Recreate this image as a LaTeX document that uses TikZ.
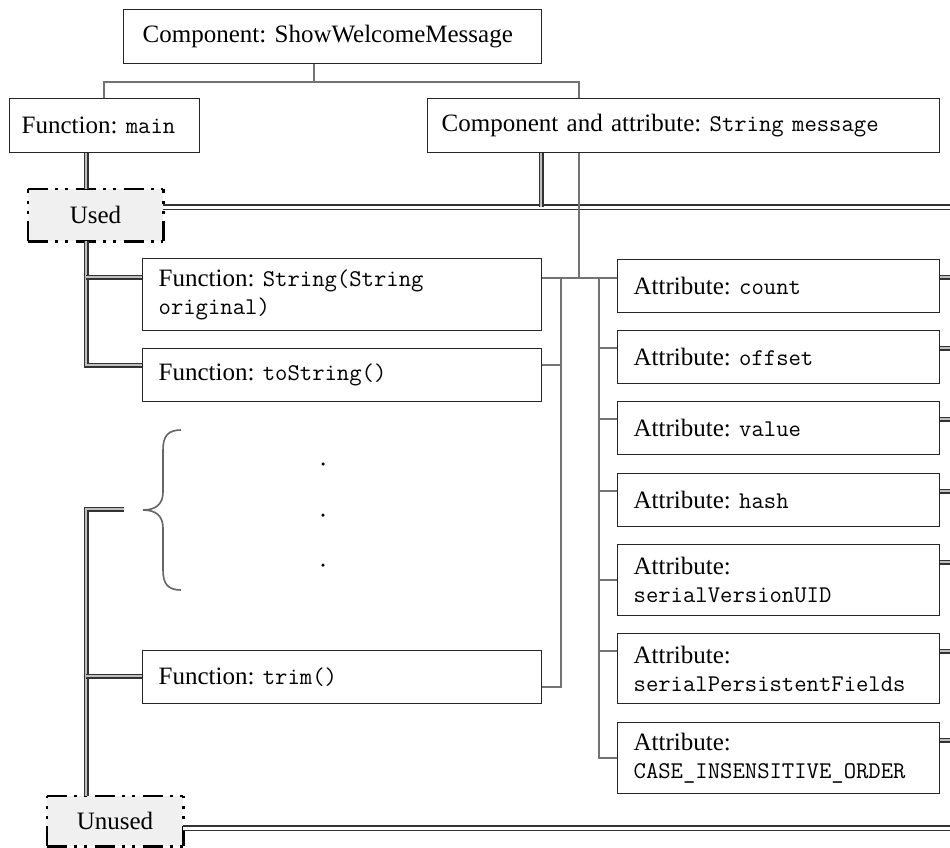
\documentclass[tikz,border=0pt]{standalone}
\usepackage{fontspec}
\setmainfont{Liberation Serif}
\frenchspacing
\newcommand{\cd}[1]{{\ttfamily\fontsize{24}{28}\selectfont #1}}
\begin{document}
\begin{tikzpicture}[x=1pt,y=-1pt,
  box/.style={draw=black!85, line width=1.3pt, fill=white, anchor=north west,
    align=left, inner xsep=16pt, inner ysep=0pt, font=\fontsize{25}{28}\selectfont\frenchspacing},
  dbl/.style={draw=black!80, line width=1.2pt, double=black!25, double distance=2.6pt},
  dblw/.style={draw=black!80, line width=1.2pt, double=white, double distance=3pt},
  conn/.style={draw=black!55, line width=1.8pt},
  status/.style={fill=black!6, minimum width=135pt, minimum height=52pt, inner sep=0pt,
    font=\fontsize{25}{28}\selectfont},
  sdash/.style={draw=black, line width=2.6pt,
    dash pattern=on 20pt off 7pt on 3pt off 7pt on 3pt off 8pt},
  dotm/.style={fill=black, circle, inner sep=0pt, minimum size=3.5pt}
]
\fill[white] (0,0) rectangle (950,848);
\useasboundingbox (0,0) rectangle (950,848);

% helper coordinates
\coordinate (vx) at (86,0);
\coordinate (jl) at (104,82);
\coordinate (jm) at (314,82);
\coordinate (jr) at (579,82);
\coordinate (cx) at (541,0);
\coordinate (gx) at (579,0);
\coordinate (lx) at (561,0);
\coordinate (rx) at (599,0);
\coordinate (ex) at (950,0);
\coordinate (usedend) at (950,207);
\coordinate (unusedend) at (950,828);
\coordinate (bl) at (124,509);

% boxes
\node[box, inner xsep=19pt, text width=380pt, minimum height=54pt] (top) at (123,9) {Component: ShowWelcomeMessage};
\node[box, inner xsep=12pt, text width=166pt, minimum height=54pt] (main) at (9,98) {Function: \cd{main}};
\node[box, inner xsep=14pt, text width=484pt, minimum height=54pt] (comp) at (427,98) {Component and attribute: \cd{String message}};

\node[box, text width=367pt, minimum height=72pt] (fstr) at (142,258) {Function: \cd{String(String}\\\cd{original)}};
\node[box, text width=367pt, minimum height=53pt] (ftos) at (142,348) {Function: \cd{toString()}};
\node[box, text width=367pt, minimum height=53pt] (ftrim) at (142,650) {Function: \cd{trim()}};

\node[box, text width=290pt, minimum height=53pt] (acount) at (617,259) {Attribute: \cd{count}};
\node[box, text width=290pt, minimum height=53pt] (aoff) at (617,330) {Attribute: \cd{offset}};
\node[box, text width=290pt, minimum height=53pt] (aval) at (617,401) {Attribute: \cd{value}};
\node[box, text width=290pt, minimum height=53pt] (ahash) at (617,473) {Attribute: \cd{hash}};
\node[box, text width=290pt, minimum height=71pt] (asvu) at (617,544) {Attribute:\\\cd{serialVersionUID}};
\node[box, text width=290pt, minimum height=70pt] (aspf) at (617,633) {Attribute:\\\cd{serialPersistentFields}};
\node[box, text width=290pt, minimum height=71pt] (acase) at (617,722) {Attribute:\\\cd{CASE\_INSENSITIVE\_ORDER}};

\node[status] (used) at (95.5,215) {Used};
\node[status, minimum width=136pt, minimum height=50pt] (unused) at (115,821) {Unused};

% dash-dot-dot borders of the status boxes
\foreach \b in {used,unused}{
  \draw[sdash] (\b.north west) -- (\b.north east);
  \draw[sdash] (\b.south east) -- (\b.north east);
  \draw[sdash] (\b.south west) -- (\b.south east);
  \draw[sdash] (\b.south west) -- (\b.north west);
}

% stub points
\coordinate (sstrL) at ([yshift=-19pt]fstr.north west);
\coordinate (stosL) at ([yshift=-17pt]ftos.north west);
\coordinate (strimL) at ([yshift=-26pt]ftrim.north west);
\coordinate (sstrR) at ([yshift=-20pt]fstr.north east);
\coordinate (stosR) at ([yshift=-17pt]ftos.north east);
\coordinate (strimR) at ([yshift=-37pt]ftrim.north east);
\coordinate (scount) at ([yshift=-19pt]acount.north west);
\coordinate (soff) at ([yshift=-18pt]aoff.north west);
\coordinate (sval) at ([yshift=-18pt]aval.north west);
\coordinate (shash) at ([yshift=-18pt]ahash.north west);
\coordinate (ssvu) at ([yshift=-36pt]asvu.north west);
\coordinate (sspf) at ([yshift=-18pt]aspf.north west);
\coordinate (scase) at ([yshift=-36pt]acase.north west);

% top tree connectors
\draw[conn] (top.south -| jm) -- (jm);
\draw[conn] (main.north -| jl) -- (jl) -- (jr) -- (comp.north -| jr);

% used group
\draw[dbl] (main.south -| vx) -- (used.north -| vx);
\draw[dbl] (used.south -| vx) |- (stosL);
\draw[dbl] (vx |- sstrL) -- (sstrL);
\draw[dblw] ([yshift=8pt]used.east) -- (usedend);
\draw[dbl] (comp.south -| cx) -- (cx |- usedend);

% unused group
\draw[dbl] (unused.north -| vx) |- (bl);
\draw[dbl] (vx |- strimL) -- (strimL);
\draw[dblw] ([yshift=-7pt]unused.east) -- (unusedend);

% gray connectors
\draw[conn] (comp.south -| gx) -- (gx |- sstrR);
\draw[conn] (sstrR) -- (scount);
\draw[conn] (lx |- sstrR) |- (strimR);
\draw[conn] (lx |- stosR) -- (stosR);
\draw[conn] (rx |- scount) |- (scase);
\foreach \s in {soff,sval,shash,ssvu,sspf}{
  \draw[conn] (rx |- \s) -- (\s);
}

% right double stubs
\foreach \n in {acount,aoff,aval,ahash,asvu,aspf,acase}{
  \coordinate (rs) at ([yshift=-18pt]\n.north east);
  \draw[dbl] (rs) -- (ex |- rs);
}

% brace
\draw[draw=black!60, line width=1.6pt] (181,430) .. controls (168,430) and (163,436) .. (163,450)
  -- (163,492) .. controls (163,504) and (156,510) .. (143,510)
  .. controls (156,510) and (163,516) .. (163,528)
  -- (163,570) .. controls (163,584) and (168,590) .. (181,590);

% dots
\node[dotm] (d1) at (323,464) {};
\node[dotm] (d2) at (323,515) {};
\node[dotm] (d3) at (323,565) {};
\end{tikzpicture}
\end{document}
